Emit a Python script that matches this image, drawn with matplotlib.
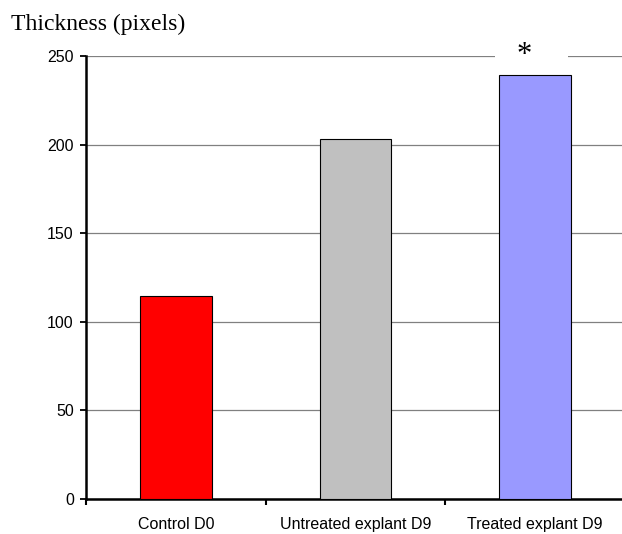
import matplotlib

matplotlib.use("Agg")
import matplotlib.pyplot as plt
from matplotlib.patches import Rectangle

# --- Data ---------------------------------------------------------------------
categories = ["Control D0", "Untreated explant D9", "Treated explant D9"]
thickness = [114.5, 203, 239]
bar_colors = ["#ff0000", "#c0c0c0", "#9999ff"]
y_ticks = [0, 50, 100, 150, 200, 250]

W, H = 622, 534
fig = plt.figure(figsize=(W / 100, H / 100), dpi=100)
# axes runs a few pixels past the right edge, as in the original export
ax = fig.add_axes([86.25 / W, 35 / H, (624.75 - 86.25) / W, 443 / H])

x = list(range(len(categories)))
ax.bar(x, thickness, width=0.4, color=bar_colors, edgecolor="#000000",
       linewidth=0.8, zorder=3)

ax.set_xlim(-0.5, len(categories) - 0.5)
ax.set_ylim(0, 250)
ax.set_yticks(y_ticks)
ax.yaxis.grid(True, color="#808080", linewidth=0.9, zorder=0)
ax.set_axisbelow(True)

ax.set_xticks(x)
ax.set_xticklabels(categories, fontfamily="Liberation Sans", fontsize=11.5)
ax.set_xticks([i - 0.5 for i in range(len(categories) + 1)], minor=True)
ax.tick_params(axis="x", which="major", length=0, pad=13)
ax.tick_params(axis="x", which="minor", length=4, width=1.5, direction="out")
ax.tick_params(axis="y", length=4, width=1.3, direction="out", pad=5)
for lbl in ax.get_yticklabels():
    lbl.set_fontfamily("Liberation Sans")
    lbl.set_fontsize(11.5)

for side in ("top", "right"):
    ax.spines[side].set_visible(False)
for side in ("left", "bottom"):
    ax.spines[side].set_linewidth(1.8)
ax.spines["left"].set_bounds(0, 250)

# significance star over the treated bar; white mask breaks the top gridline
ax.add_patch(Rectangle((1.777, 246), 0.407, 8, facecolor="white",
                       edgecolor="none", zorder=2, clip_on=False))
ax.text(1.941, 250.5, "*", ha="center", va="center", fontsize=22,
        fontfamily="Liberation Serif", zorder=4, clip_on=False)

fig.text(11 / W, 1 - 30 / H, "Thickness (pixels)", ha="left", va="baseline",
         fontfamily="Liberation Serif", fontsize=17)

fig.savefig("out.png", dpi=100)
